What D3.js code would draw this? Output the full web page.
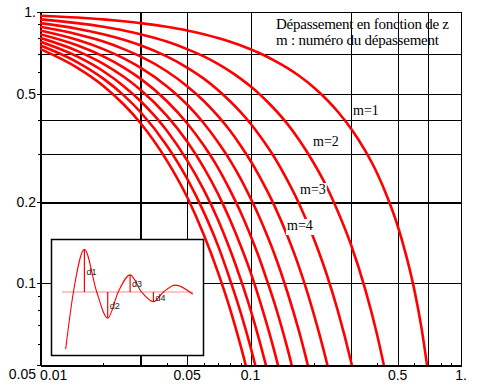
<!DOCTYPE html>
<html>
<head>
<meta charset="utf-8">
<script src="https://cdn.jsdelivr.net/npm/d3@7"></script>
<style>
  body { margin: 0; background: #fff; }
  svg { display: block; }
</style>
</head>
<body>
<svg id="chart"></svg>
<script>
// damping ratio z (shared abscissa for every curve)
const zValues = [0.01, 0.015, 0.02, 0.025, 0.03, 0.04, 0.05, 0.06, 0.07, 0.08, 0.09,
                 0.1, 0.11, 0.12, 0.13, 0.15, 0.17, 0.2, 0.23, 0.26, 0.3, 0.35, 0.4,
                 0.45, 0.5, 0.55, 0.6, 0.65, 0.7];

// overshoot, m = 1 .. 10 (each list stops once below 0.05)
const depM1  = [0.969, 0.954, 0.939, 0.924, 0.910, 0.882, 0.855, 0.828, 0.802, 0.777, 0.753,
                0.729, 0.706, 0.684, 0.662, 0.621, 0.582, 0.527, 0.476, 0.429, 0.372, 0.309,
                0.254, 0.205, 0.163, 0.126, 0.0948, 0.0681, 0.046];
const depM2  = [0.939, 0.910, 0.882, 0.855, 0.828, 0.778, 0.730, 0.686, 0.644, 0.604, 0.567,
                0.532, 0.499, 0.468, 0.439, 0.386, 0.338, 0.277, 0.227, 0.184, 0.139, 0.0956,
                0.0644, 0.0422];
const depM3  = [0.910, 0.868, 0.828, 0.790, 0.754, 0.686, 0.624, 0.568, 0.516, 0.469, 0.427,
                0.388, 0.352, 0.320, 0.291, 0.239, 0.197, 0.146, 0.108, 0.0791, 0.0516, 0.0296];
const depM4  = [0.882, 0.828, 0.778, 0.730, 0.686, 0.605, 0.533, 0.470, 0.414, 0.365, 0.321,
                0.283, 0.249, 0.219, 0.193, 0.149, 0.115, 0.0769, 0.0513, 0.0339];
const depM5  = [0.855, 0.790, 0.730, 0.675, 0.624, 0.533, 0.456, 0.389, 0.332, 0.284, 0.242,
                0.206, 0.176, 0.150, 0.128, 0.0923, 0.0666, 0.0405];
const depM6  = [0.828, 0.754, 0.686, 0.624, 0.568, 0.470, 0.389, 0.322, 0.267, 0.220, 0.182,
                0.150, 0.124, 0.102, 0.0845, 0.0573, 0.0387];
const depM7  = [0.803, 0.719, 0.644, 0.577, 0.517, 0.415, 0.333, 0.267, 0.214, 0.171, 0.137,
                0.110, 0.0877, 0.070, 0.056, 0.0356];
const depM8  = [0.778, 0.686, 0.605, 0.533, 0.470, 0.366, 0.284, 0.221, 0.172, 0.133, 0.103,
                0.080, 0.0619, 0.0479];
const depM9  = [0.754, 0.654, 0.568, 0.493, 0.428, 0.322, 0.243, 0.183, 0.138, 0.103, 0.0776,
                0.0583, 0.0437];
const depM10 = [0.731, 0.624, 0.534, 0.456, 0.390, 0.284, 0.208, 0.151, 0.110, 0.0804, 0.0584,
                0.0425];
const series = [depM1, depM2, depM3, depM4, depM5, depM6, depM7, depM8, depM9, depM10];

const curveLabels = ["m=1", "m=2", "m=3", "m=4"];

// axes
const xGrid = [0.03, 0.05, 0.1, 0.3, 0.5, 0.7, 1];
const yGrid = [1, 0.7, 0.5, 0.4, 0.3, 0.2, 0.1];
const xTickLabels = ["0.01", "0.05", "0.1", "0.5", "1."];
const xTickValues = [0.01, 0.05, 0.1, 0.5, 1];
const yTickLabels = ["1.", "0.5", "0.2", "0.1", "0.05"];
const yTickValues = [1, 0.5, 0.2, 0.1, 0.05];
const titleLines = ["Dépassement en fonction de z", "m : numéro du dépassement"];

// inset: step response sketch
const insetT = [0.08, 0.25, 0.49, 0.76, 1.0, 1.23, 1.49, 1.74, 2.0, 2.22, 2.48, 2.86];
const insetV = [0.0, 1.0, 1.75, 1.0, 0.54, 1.0, 1.30, 1.0, 0.83, 1.0, 1.12, 0.96];
const peakT = [0.49, 1.0, 1.49, 2.0];
const peakV = [1.75, 0.54, 1.30, 0.83];
const peakLabels = ["d1", "d2", "d3", "d4"];

const W = 480, H = 389;
const mLeft = 40, mRight = 461, mTop = 12, mBottom = 365;

const svg = d3.select("#chart").attr("width", W).attr("height", H);

const x = d3.scaleLog().domain([0.01, 1]).range([mLeft, mRight]);
const y = d3.scaleLog().domain([0.05, 1]).range([mBottom, mTop]);

// title first, grid goes over it like in the original
const titleWidths = [173, 163];
const title = svg.append("g")
    .attr("font-family", "'Liberation Serif', 'Times New Roman', serif")
    .attr("font-size", "15px");
titleLines.forEach((t, i) => {
    title.append("text")
        .attr("x", 276).attr("y", 29 + i * 16)
        .attr("textLength", titleWidths[i])
        .attr("lengthAdjust", "spacing")
        .text(t);
});

// grid
const grid = svg.append("g").attr("shape-rendering", "crispEdges");
grid.selectAll(".vg").data(xGrid).enter().append("line")
    .attr("x1", d => Math.round(x(d)) + 0.5).attr("x2", d => Math.round(x(d)) + 0.5)
    .attr("y1", mTop).attr("y2", mBottom)
    .attr("stroke", "#000")
    .attr("stroke-width", d => d === 0.03 ? 2 : 1);
grid.selectAll(".hg").data(yGrid).enter().append("line")
    .attr("y1", d => Math.round(y(d)) + 0.5).attr("y2", d => Math.round(y(d)) + 0.5)
    .attr("x1", mLeft).attr("x2", mRight)
    .attr("stroke", "#000")
    .attr("stroke-width", d => d === 0.2 ? 2 : 1);

// axes (ticks only, labels placed by hand)
const minorX = [];
[0.01, 0.1].forEach(dec => { for (let k = 1; k <= 9; k++) minorX.push(dec * k); });
minorX.push(1);
const minorY = [0.05, 0.06, 0.07, 0.08, 0.09, 0.1, 0.2, 0.3, 0.4, 0.5, 0.6, 0.7, 0.8, 0.9, 1];

const xAxis = d3.axisBottom(x).tickValues(minorX).tickFormat("").tickSize(-3).tickSizeOuter(0);
const yAxis = d3.axisLeft(y).tickValues(minorY).tickFormat("").tickSize(3).tickSizeOuter(0);

const xg = svg.append("g").attr("transform", `translate(0,${mBottom + 0.5})`).call(xAxis);
const yg = svg.append("g").attr("transform", `translate(${mLeft + 0.5},0)`).call(yAxis);
[xg, yg].forEach(g => {
    g.attr("shape-rendering", "crispEdges");
    g.select(".domain").attr("stroke", "#000").attr("stroke-width", 1.2);
    g.selectAll(".tick line").attr("stroke", "#000");
});
yg.selectAll(".tick line").attr("x2", d => [0.05, 0.1, 0.2, 0.5, 1].includes(d) ? -4 : -3);

const lab = svg.append("g")
    .attr("font-family", "'Liberation Sans', Arial, sans-serif")
    .attr("font-size", "14px").attr("fill", "#000");
xTickValues.forEach((v, i) => {
    lab.append("text")
        .attr("x", x(v))
        .attr("y", 380)
        .attr("text-anchor", i === 0 ? "start" : "middle")
        .text(xTickLabels[i]);
});
yTickValues.forEach((v, i) => {
    let yy = y(v) + 5;
    if (v === 1) yy = 17;
    if (v === 0.05) yy = 379;
    lab.append("text")
        .attr("x", 36)
        .attr("y", yy)
        .attr("text-anchor", "end")
        .text(yTickLabels[i]);
});

// curves
svg.append("clipPath").attr("id", "plotclip")
    .append("rect").attr("x", mLeft).attr("y", mTop)
    .attr("width", mRight - mLeft).attr("height", mBottom - mTop);

const line = d3.line()
    .x(d => x(d.z))
    .y(d => y(d.v))
    .curve(d3.curveMonotoneX);

const curves = svg.append("g").attr("clip-path", "url(#plotclip)");
series.forEach(vals => {
    const pts = vals.map((v, i) => ({ z: zValues[i], v: v }));
    curves.append("path")
        .attr("d", line(pts))
        .attr("fill", "none")
        .attr("stroke", "#ff0000")
        .attr("stroke-width", 2.6);
});

// curve labels with white background
const labelPos = [[353, 115], [313, 146], [300, 194], [287, 230]];
const ml = svg.append("g")
    .attr("font-family", "'Liberation Serif', 'Times New Roman', serif")
    .attr("font-size", "14px");
curveLabels.forEach((t, i) => {
    const g = ml.append("g");
    const txt = g.append("text").attr("x", labelPos[i][0]).attr("y", labelPos[i][1]).text(t);
    const bb = txt.node().getBBox();
    g.insert("rect", "text")
        .attr("x", bb.x - 1).attr("y", bb.y + 1)
        .attr("width", bb.width + 2).attr("height", bb.height + 1)
        .attr("fill", "#fff");
});

// inset
const inset = svg.append("g");
inset.append("rect")
    .attr("x", 51.5).attr("y", 239.5).attr("width", 152).attr("height", 116)
    .attr("fill", "#fff").attr("stroke", "#000").attr("stroke-width", 1.5);

const it = d3.scaleLinear().domain([0, 2.866]).range([62, 193]);
const iv = d3.scaleLinear().domain([0, 2]).range([349, 235]);

inset.append("line")
    .attr("x1", it(0)).attr("x2", it(2.866))
    .attr("y1", iv(1)).attr("y2", iv(1))
    .attr("stroke", "#ffc4c4").attr("stroke-width", 2);

const iline = d3.line()
    .x((d, i) => it(insetT[i]))
    .y(d => iv(d))
    .curve(d3.curveMonotoneX);
inset.append("path")
    .attr("d", iline(insetV))
    .attr("fill", "none").attr("stroke", "#ff0000").attr("stroke-width", 1.1);

peakT.forEach((t, i) => {
    inset.append("line")
        .attr("x1", it(t)).attr("x2", it(t))
        .attr("y1", iv(peakV[i])).attr("y2", iv(1))
        .attr("stroke", "#ff0000").attr("stroke-width", 1.2);
    inset.append("text")
        .attr("x", it(t) + 2)
        .attr("y", (iv(peakV[i]) + iv(1)) / 2 + 4)
        .attr("font-family", "'Liberation Sans', Arial, sans-serif")
        .attr("font-size", "9px")
        .attr("fill", "#222")
        .text(peakLabels[i]);
});
</script>
</body>
</html>
